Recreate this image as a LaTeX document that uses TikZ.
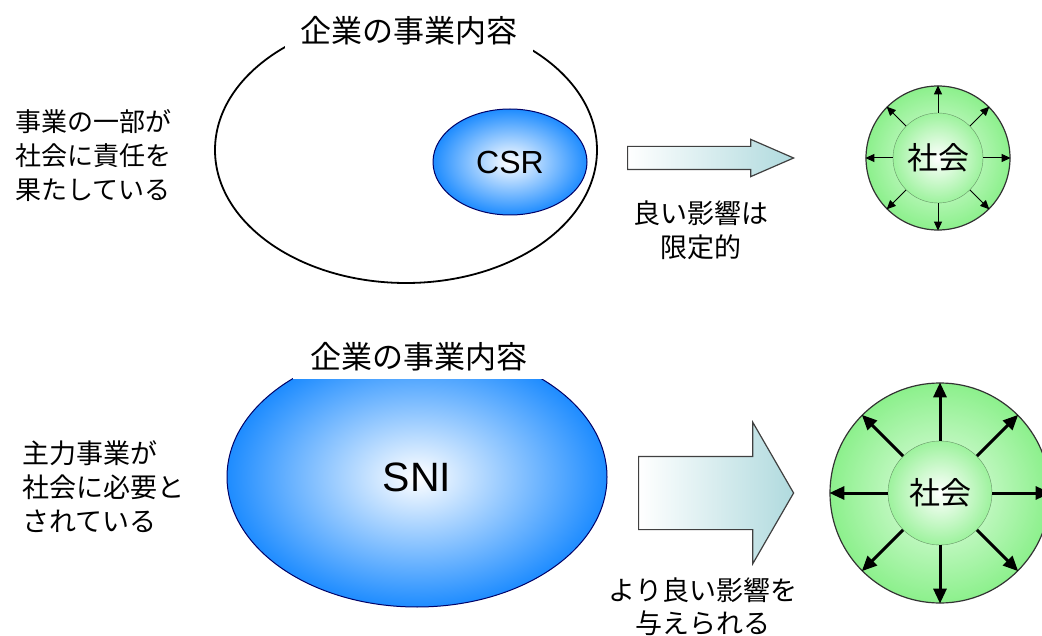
\documentclass[tikz,border=0pt]{standalone}
\usepackage{fontspec}
\setmainfont{Liberation Sans}
\newfontfamily\jp{Noto Sans CJK JP}
\usepackage{tikz}
\usetikzlibrary{shapes.geometric,shapes.arrows,arrows.meta}
\definecolor{ballblue}{RGB}{30,140,255}
\definecolor{socgreen}{RGB}{140,240,140}
\definecolor{soclight}{RGB}{230,253,230}
\definecolor{arrowteal}{RGB}{176,218,222}
\begin{document}
\begin{tikzpicture}[x=1pt,y=-1pt,
	jtext/.style={font=\jp\fontsize{27}{34}\selectfont, inner sep=0pt},
	ball/.style={ellipse, draw=blue!40!black, line width=1pt, inner color=white, outer color=ballblue, inner sep=0pt},
	ring/.style={circle, draw=black!80, line width=1.2pt, inner color=soclight, outer color=socgreen, inner sep=0pt},
	core/.style={circle, draw=green!30!black!60, inner color=white, outer color=socgreen!85, inner sep=0pt, font=\jp\fontsize{31}{31}\selectfont},
	bigarrow/.style={single arrow, draw=black!75, line width=1.2pt, left color=white, right color=arrowteal, anchor=tail, inner sep=0pt}]
	\useasboundingbox (0,0) rectangle (1042,636);
	\node[ellipse, draw, line width=1.8pt, minimum width=382pt, minimum height=266pt, inner sep=0pt] (biz1) at (406,150) {};
	\node[ball, minimum width=154pt, minimum height=106pt, font=\fontsize{32}{32}\selectfont] (csr) at (510,162) {CSR};
	\node[jtext, fill=white, minimum width=248pt, minimum height=44pt, font=\jp\fontsize{31}{31}\selectfont] (title1) at (409,31) {企業の事業内容};
	\node[ball, minimum width=380pt, minimum height=260pt, font=\fontsize{41}{41}\selectfont] (sni) at (417,477) {SNI};
	\node[jtext, fill=white, minimum width=253pt, minimum height=44pt, font=\jp\fontsize{31}{31}\selectfont] (title2) at (419,357) {企業の事業内容};
	\node[jtext, font=\jp\fontsize{26}{34}\selectfont, align=left, anchor=west] (part) at (15,156) {事業の一部が\\社会に責任を\\果たしている};
	\node[jtext, align=left, anchor=west] (core) at (22,487) {主力事業が\\社会に必要と\\されている};
	\node[bigarrow, minimum height=166pt, minimum width=36pt, inner ysep=11pt, single arrow head extend=7pt, single arrow tip angle=47] (arr1) at (627,158) {};
	\node[bigarrow, minimum height=155pt, minimum width=140pt, inner ysep=36pt, single arrow head extend=34pt, single arrow tip angle=120] (arr2) at (638,493) {};
	\node[jtext, align=center] (limited) at (701,230) {良い影響は\\限定的};
	\node[jtext, font=\jp\fontsize{27}{33}\selectfont, align=center] (better) at (703,607) {より良い影響を\\与えられる};
	\node[ring, minimum size=144pt] (soc1) at (938,158) {};
	\node[core, minimum size=90pt] (mid1) at (938,158) {社会};
	\foreach \a in {0,45,...,315}
		\draw[line width=1pt, -{Triangle[length=9pt,width=8pt]}] (mid1.\a) -- (soc1.\a);
	\node[ring, minimum size=220pt] (soc2) at (940,493) {};
	\node[core, minimum size=104pt] (mid2) at (940,493) {社会};
	\foreach \a in {0,45,...,315}
		\draw[line width=3pt, -{Triangle[length=15pt,width=13pt]}] (mid2.\a) -- (soc2.\a);
\end{tikzpicture}
\end{document}
